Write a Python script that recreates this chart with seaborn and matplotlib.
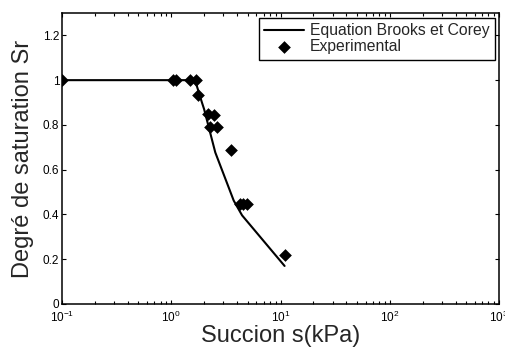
import numpy as np
import pandas as pd
import matplotlib
matplotlib.use("Agg")
import matplotlib.pyplot as plt
import seaborn as sns
from matplotlib.ticker import LogLocator, FixedLocator, FixedFormatter, NullFormatter

# Experimental data (suction kPa, degree of saturation)
exp_s = [0.1, 1.03, 1.11, 1.47, 1.69, 1.74, 2.15, 2.44, 2.25, 2.63, 3.55, 4.25, 4.58, 4.93, 10.94]
exp_sr = [1.0, 1.0, 1.0, 1.0, 1.0, 0.933, 0.850, 0.843, 0.791, 0.791, 0.688, 0.447, 0.447, 0.447, 0.221]

# Brooks & Corey curve
bc_s = [0.1, 1.65, 1.75, 1.91, 2.0, 2.25, 2.53, 3.73, 4.45, 10.9]
bc_sr = [1.0, 1.0, 0.96, 0.90, 0.87, 0.773, 0.677, 0.462, 0.396, 0.170]

yticks = [0, 0.2, 0.4, 0.6, 0.8, 1.0, 1.2]
ytick_labels = ["0", "0.2", "0.4", "0.6", "0.8", "1", "1.2"]

sns.set_style("ticks")
plt.rcParams["font.family"] = ["Liberation Sans", "DejaVu Sans"]
plt.rcParams["mathtext.fontset"] = "custom"
plt.rcParams["mathtext.rm"] = "Liberation Sans"
plt.rcParams["mathtext.it"] = "Liberation Sans:italic"

fig = plt.figure(figsize=(5.05, 3.47), dpi=100)
ax = fig.add_axes([62 / 505, 1 - 304 / 347, 437 / 505, 291 / 347])

df_bc = pd.DataFrame({"s": bc_s, "sr": bc_sr})
df_exp = pd.DataFrame({"s": exp_s, "sr": exp_sr})

sns.lineplot(data=df_bc, x="s", y="sr", ax=ax, color="black", linewidth=1.5,
             label="Equation Brooks et Corey", sort=False)
sns.scatterplot(data=df_exp, x="s", y="sr", ax=ax, color="black", marker="D",
                s=42, linewidth=0, label="Experimental", zorder=3)

ax.set_xscale("log")
ax.set_xlim(0.1, 1000)
ax.set_ylim(0, 1.3)
ax.xaxis.set_major_locator(LogLocator(base=10, numticks=10))
ax.xaxis.set_minor_locator(LogLocator(base=10, subs=np.arange(2, 10), numticks=20))
ax.xaxis.set_minor_formatter(NullFormatter())
ax.yaxis.set_major_locator(FixedLocator(yticks))
ax.yaxis.set_major_formatter(FixedFormatter(ytick_labels))

ax.tick_params(axis="both", which="both", direction="in", top=True, right=True,
               labelsize=8.5, colors="black", width=0.8)
ax.tick_params(axis="both", which="major", length=3, pad=2)
ax.tick_params(axis="x", which="major", pad=4.5)
ax.tick_params(axis="x", which="minor", length=2.2)
for sp in ax.spines.values():
    sp.set_visible(True)
    sp.set_color("black")
    sp.set_linewidth(1.1)

ax.set_xlabel("Succion s(kPa)", fontsize=17, labelpad=-0.5)
ax.set_ylabel("Degré de saturation Sr", fontsize=17, labelpad=6)

leg = ax.legend(loc="upper right", bbox_to_anchor=(0.991, 0.983), fontsize=11.3,
                frameon=True, fancybox=False, edgecolor="black", framealpha=1,
                handlelength=2.55, handletextpad=0.35, borderpad=0.35,
                labelspacing=0.05, borderaxespad=0)
leg.get_frame().set_linewidth(1.0)

fig.savefig("out.png", dpi=100)
